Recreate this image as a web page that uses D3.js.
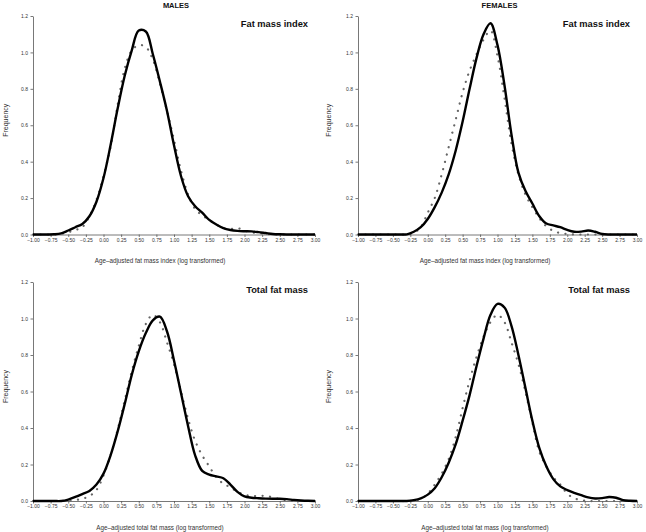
<!DOCTYPE html>
<html>
<head>
<meta charset="utf-8">
<script src="https://cdn.jsdelivr.net/npm/d3@7"></script>
<style>
  body { margin: 0; background: #fff; }
  svg { display: block; font-family: "Liberation Sans", Arial, sans-serif; }
  .axis path, .axis line { stroke: #555; stroke-width: 0.8; }
  .axis text { font-size: 5px; fill: #333; }
</style>
</head>
<body>
<svg id="chart" width="646" height="532"></svg>
<script>
// x grid shared by every curve (log transformed value)
var xGrid = [-1.0, -0.9, -0.8, -0.7, -0.6, -0.5, -0.4, -0.3, -0.2, -0.1,
  0.0, 0.1, 0.2, 0.3, 0.4, 0.5, 0.6, 0.7, 0.8, 0.9,
  1.0, 1.1, 1.2, 1.3, 1.4, 1.5, 1.6, 1.7, 1.8, 1.9,
  2.0, 2.1, 2.2, 2.3, 2.4, 2.5, 2.6, 2.7, 2.8, 2.9, 3.0];

var xTicks = [-1.0, -0.75, -0.5, -0.25, 0, 0.25, 0.5, 0.75, 1.0, 1.25, 1.5, 1.75, 2.0, 2.25, 2.5, 2.75, 3.0];
var yTicks = [0, 0.2, 0.4, 0.6, 0.8, 1.0, 1.2];

// Males, fat mass index: observed density (solid) and reference (dotted)
var malesFmiDensity = [0, 0, 0, 0.001, 0.006, 0.022, 0.04, 0.058, 0.10, 0.18,
  0.31, 0.49, 0.69, 0.87, 1.01, 1.12, 1.115, 0.99, 0.84, 0.68,
  0.49, 0.32, 0.21, 0.155, 0.12, 0.08, 0.055, 0.035, 0.025, 0.02,
  0.018, 0.017, 0.013, 0.008, 0.003, 0.001, 0, 0, 0, 0, 0];
var malesFmiRef = [0, 0, 0, 0, 0.004, 0.012, 0.025, 0.04, 0.10, 0.19,
  0.32, 0.48, 0.71, 0.91, 1.01, 1.04, 1.03, 0.96, 0.83, 0.68,
  0.52, 0.35, 0.22, 0.14, 0.105, 0.08, 0.055, 0.035, 0.03, 0.035,
  0.022, 0.012, 0.008, 0.004, 0.001, 0, 0, 0, 0, 0, 0];

// Females, fat mass index
var femalesFmiDensity = [0, 0, 0, 0, 0, 0, 0, 0.001, 0.015, 0.04,
  0.085, 0.15, 0.23, 0.33, 0.46, 0.62, 0.80, 0.97, 1.10, 1.16,
  1.04, 0.82, 0.55, 0.34, 0.24, 0.17, 0.10, 0.06, 0.05, 0.04,
  0.025, 0.015, 0.016, 0.022, 0.015, 0.003, 0, 0, 0, 0, 0];
var femalesFmiRef = [0, 0, 0, 0, 0, 0, 0, 0, 0.01, 0.04,
  0.12, 0.20, 0.33, 0.48, 0.63, 0.78, 0.90, 0.99, 1.07, 1.12,
  0.98, 0.75, 0.50, 0.33, 0.22, 0.15, 0.09, 0.045, 0.02, 0.008,
  0.003, 0, 0, 0, 0, 0, 0, 0, 0, 0, 0];

// Males, total fat mass
var malesTfmDensity = [0, 0, 0, 0, 0, 0.008, 0.022, 0.038, 0.055, 0.09,
  0.15, 0.25, 0.38, 0.53, 0.69, 0.82, 0.92, 0.99, 1.01, 0.93,
  0.77, 0.59, 0.41, 0.25, 0.165, 0.145, 0.135, 0.125, 0.09, 0.05,
  0.025, 0.018, 0.015, 0.013, 0.012, 0.012, 0.01, 0.006, 0.003, 0.001, 0];
var malesTfmRef = [0, 0, 0, 0, 0, 0.002, 0.006, 0.012, 0.027, 0.06,
  0.14, 0.25, 0.39, 0.55, 0.71, 0.85, 0.97, 1.02, 0.98, 0.87,
  0.75, 0.60, 0.45, 0.33, 0.25, 0.19, 0.13, 0.095, 0.075, 0.05,
  0.035, 0.027, 0.028, 0.028, 0.02, 0.01, 0.005, 0, 0, 0, 0];

// Females, total fat mass
var femalesTfmDensity = [0, 0, 0, 0, 0, 0, 0, 0, 0.005, 0.015,
  0.035, 0.07, 0.13, 0.21, 0.31, 0.44, 0.58, 0.74, 0.89, 1.02,
  1.08, 1.06, 0.96, 0.80, 0.62, 0.44, 0.29, 0.19, 0.12, 0.08,
  0.06, 0.045, 0.032, 0.02, 0.014, 0.016, 0.022, 0.018, 0.005, 0.001, 0];
var femalesTfmRef = [0, 0, 0, 0, 0, 0, 0, 0, 0.003, 0.012,
  0.04, 0.09, 0.15, 0.23, 0.35, 0.51, 0.66, 0.79, 0.90, 0.98,
  1.02, 0.98, 0.87, 0.75, 0.60, 0.43, 0.27, 0.19, 0.13, 0.09,
  0.04, 0.015, 0.005, 0, 0, 0, 0, 0, 0, 0, 0];

var panels = [
  { left: 33, right: 315, top: 16, bottom: 234.5, freqX: 6, header: "MALES", title: "Fat mass index",
    xlabel: "Age\u2013adjusted fat mass index (log transformed)", solid: malesFmiDensity, dotted: malesFmiRef },
  { left: 358, right: 637, top: 16, bottom: 234.5, freqX: 329, header: "FEMALES", title: "Fat mass index",
    xlabel: "Age\u2013adjusted fat mass index (log transformed)", solid: femalesFmiDensity, dotted: femalesFmiRef },
  { left: 33, right: 315, top: 282, bottom: 501, freqX: 6, header: null, title: "Total fat mass",
    xlabel: "Age\u2013adjusted total fat mass (log transformed)", solid: malesTfmDensity, dotted: malesTfmRef },
  { left: 358, right: 637, top: 282, bottom: 501, freqX: 329, header: null, title: "Total fat mass",
    xlabel: "Age\u2013adjusted total fat mass (log transformed)", solid: femalesTfmDensity, dotted: femalesTfmRef }
];

var svg = d3.select("#chart");

panels.forEach(function(p) {
  var x = d3.scaleLinear().domain([-1, 3]).range([p.left, p.right]);
  var y = d3.scaleLinear().domain([0, 1.2]).range([p.bottom, p.top]);

  var g = svg.append("g");

  // axes
  g.append("g")
    .attr("class", "axis")
    .attr("transform", "translate(0," + p.bottom + ")")
    .call(d3.axisBottom(x).tickValues(xTicks).tickFormat(d3.format(".2f"))
      .tickSize(2.5).tickSizeOuter(0).tickPadding(1));

  g.append("g")
    .attr("class", "axis")
    .attr("transform", "translate(" + p.left + ",0)")
    .call(d3.axisLeft(y).tickValues(yTicks).tickFormat(d3.format(".1f"))
      .tickSize(2.5).tickSizeOuter(0).tickPadding(2.5));

  var line = d3.line()
    .x(function(d, i) { return x(xGrid[i]); })
    .y(function(d) { return Math.min(y(d), p.bottom); })
    .curve(d3.curveCatmullRom.alpha(0.5));

  // dotted reference curve, then solid density on top
  g.append("path")
    .datum(p.dotted)
    .attr("d", line)
    .attr("fill", "none")
    .attr("stroke", "#666")
    .attr("stroke-width", 2.2)
    .attr("stroke-linecap", "round")
    .attr("stroke-dasharray", "0.1,7.4");

  g.append("path")
    .datum(p.solid)
    .attr("d", line)
    .attr("fill", "none")
    .attr("stroke", "#000")
    .attr("stroke-width", 2.4)
    .attr("stroke-linejoin", "round");

  // labels
  g.append("text")
    .attr("transform", "translate(" + p.freqX + "," + ((p.top + p.bottom) / 2 - 5) + ") rotate(-90)")
    .attr("text-anchor", "middle")
    .attr("dy", "0.35em")
    .attr("font-size", "7px")
    .attr("fill", "#333")
    .text("Frequency");

  g.append("text")
    .attr("x", p.left + 127)
    .attr("y", p.bottom + 28.5)
    .attr("text-anchor", "middle")
    .attr("font-size", "6.3px")
    .attr("fill", "#333")
    .text(p.xlabel);

  g.append("text")
    .attr("x", p.right - 7)
    .attr("y", p.top + 11)
    .attr("text-anchor", "end")
    .attr("font-size", "9.3px")
    .attr("font-weight", "bold")
    .attr("fill", "#111")
    .text(p.title);

  if (p.header) {
    g.append("text")
      .attr("x", (p.left + p.right) / 2 + 2)
      .attr("y", 7.5)
      .attr("text-anchor", "middle")
      .attr("font-size", "7.5px")
      .attr("font-weight", "bold")
      .attr("fill", "#111")
      .text(p.header);
  }
});
</script>
</body>
</html>
